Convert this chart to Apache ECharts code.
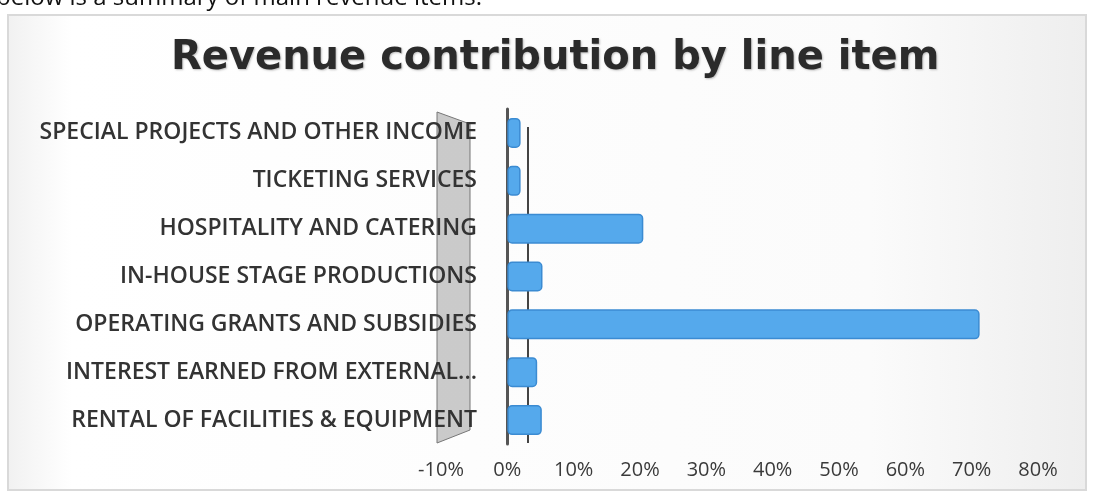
<!DOCTYPE html>
<html>
<head>
<meta charset="utf-8">
<title>Revenue contribution by line item</title>
<script src="https://cdn.jsdelivr.net/npm/echarts@6/dist/echarts.min.js"></script>
<style>
    html, body {
        margin: 0;
        padding: 0;
        background: #ffffff;
    }
    #chart {
        width: 1094px;
        height: 495px;
    }
</style>
</head>
<body>
<div id="chart"></div>
<script>
// categories, top to bottom as printed
const categories = [
    'SPECIAL PROJECTS AND OTHER INCOME',
    'TICKETING SERVICES',
    'HOSPITALITY AND CATERING',
    'IN-HOUSE STAGE PRODUCTIONS',
    'OPERATING GRANTS AND SUBSIDIES',
    'INTEREST EARNED FROM EXTERNAL...',
    'RENTAL OF FACILITIES & EQUIPMENT'
];
// share of revenue, percent
const shares = [2, 2, 20.5, 5.3, 71.2, 4.5, 5.2];
const axisMin = -10;
const axisMax = 80;
const axisStep = 10;

const chart = echarts.init(document.getElementById('chart'));

const labelColor = '#333333';
const barBlue = '#55a9ec';
const barEdge = '#3b8bd2';

chart.setOption({
    animation: false,
    backgroundColor: '#ffffff',
    title: {
        text: 'Revenue contribution by line item',
        left: 166,
        top: 34,
        textStyle: {
            fontFamily: 'DejaVu Sans',
            fontWeight: 'bold',
            fontSize: 40,
            color: '#2b2b2b',
            textShadowColor: 'rgba(0, 0, 0, 0.25)',
            textShadowBlur: 2,
            textShadowOffsetX: 1,
            textShadowOffsetY: 1
        }
    },
    grid: {
        left: 441,
        right: 56,
        top: 109,
        bottom: 51
    },
    xAxis: {
        type: 'value',
        min: axisMin,
        max: axisMax,
        interval: axisStep,
        axisLine: {show: false},
        axisTick: {show: false},
        splitLine: {show: false},
        axisLabel: {
            formatter: '{value}%',
            margin: 16,
            fontFamily: 'Open Sans',
            fontSize: 20,
            color: '#3a3a3a'
        }
    },
    yAxis: {
        type: 'category',
        inverse: true,
        data: categories,
        axisTick: {show: false},
        axisLine: {
            show: true,
            onZero: true,
            lineStyle: {color: '#555555', width: 3}
        },
        axisLabel: {
            // labels run into the side wall, as in the printed chart
            margin: -36,
            fontFamily: 'Open Sans',
            fontWeight: 600,
            fontSize: 23,
            color: labelColor
        }
    },
    graphic: [
        {
            // chart frame
            type: 'rect',
            z: -20,
            shape: {x: 8, y: 15, width: 1078, height: 475},
            style: {
                fill: new echarts.graphic.LinearGradient(0, 0, 1, 0, [
                    {offset: 0, color: '#f1f1f1'},
                    {offset: 0.06, color: '#ffffff'},
                    {offset: 0.8, color: '#fbfbfb'},
                    {offset: 1, color: '#eeeeee'}
                ]),
                stroke: '#d9d9d9',
                lineWidth: 2
            }
        },
        {
            // 3d side wall
            type: 'polygon',
            z: -10,
            shape: {points: [[437, 112], [470, 124], [470, 430], [437, 443]]},
            style: {fill: 'rgba(160, 160, 160, 0.55)', stroke: '#777777', lineWidth: 1}
        },
        {
            // back axis line of the 3d frame
            type: 'line',
            z: -5,
            shape: {x1: 528, y1: 127, x2: 528, y2: 443},
            style: {stroke: '#444444', lineWidth: 2}
        },
        {
            // line of document text above the chart, cut off by the scan
            type: 'text',
            left: -4,
            top: -14,
            style: {
                text: 'below is a summary of main revenue items.',
                fontFamily: 'Open Sans',
                fontSize: 24,
                fill: '#111111'
            }
        }
    ],
    series: [
        {
            type: 'bar',
            data: shares,
            barWidth: 30,
            itemStyle: {
                color: barBlue,
                borderColor: barEdge,
                borderWidth: 1.5,
                borderRadius: 4
            }
        }
    ]
});
</script>
</body>
</html>
